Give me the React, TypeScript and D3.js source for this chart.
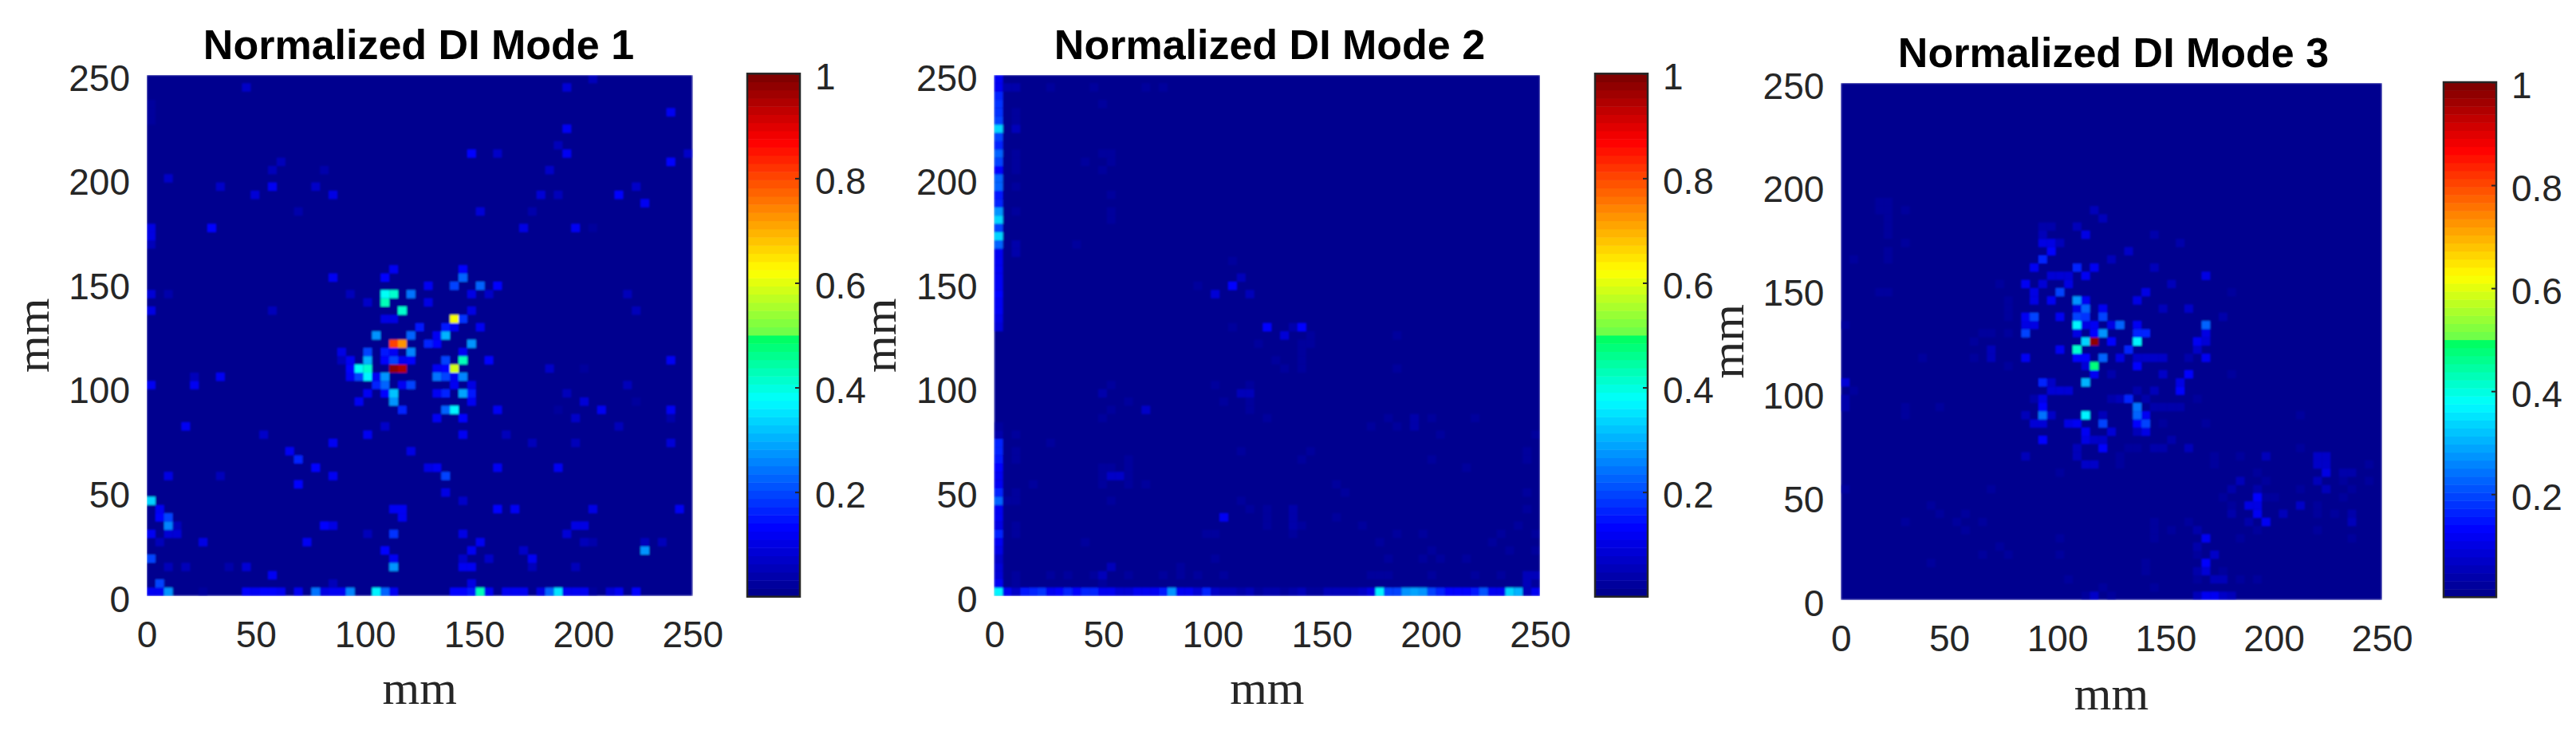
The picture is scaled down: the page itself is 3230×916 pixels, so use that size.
import React, { useEffect, useRef } from 'react';
import * as d3 from 'd3';

type Cell = [number, number, number]; // grid column, grid row from the bottom, DI value

const gridSize = 63;
const axisTicks = [0, 50, 100, 150, 200, 250];
const colorbarTicks = [0.2, 0.4, 0.6, 0.8, 1];
const colormapStops = [0, 0.125, 0.375, 0.4995, 0.5, 0.625, 0.875, 1];
const colormapColors = ['#00008f', '#0000ff', '#00ffff', '#00ff5a', '#66ff4d', '#ffff00', '#ff0000', '#800000'];
const titles = ['Normalized DI Mode 1', 'Normalized DI Mode 2', 'Normalized DI Mode 3'];

const mode1Cells: Cell[] = [
  [0, 0, .12], [1, 0, .12], [2, 0, .28], [6, 0, .03], [11, 0, .13], [12, 0, .12], [13, 0, .14], [14, 0, .14], [15, 0, .12],
  [17, 0, .11], [19, 0, .24], [20, 0, .1], [21, 0, .11], [22, 0, .11], [23, 0, .26], [26, 0, .36], [27, 0, .22], [28, 0, .12],
  [35, 0, .14], [36, 0, .14], [37, 0, .15], [38, 0, .43], [39, 0, .12], [41, 0, .12], [42, 0, .12], [43, 0, .11], [45, 0, .1],
  [46, 0, .23], [47, 0, .35], [48, 0, .11], [49, 0, .11], [50, 0, .11], [51, 0, .03], [53, 0, .09], [54, 0, .11], [56, 0, .13],
  [1, 1, .2], [21, 1, .05], [37, 1, .1], [14, 2, .12],
  [2, 3, .05], [4, 3, .05], [9, 3, .04], [11, 3, .09], [28, 3, .27], [36, 3, .12], [37, 3, .11], [44, 3, .05], [49, 3, .05],
  [0, 4, .2], [28, 4, .11], [36, 4, .065], [39, 4, .065], [44, 4, .11],
  [27, 5, .14], [37, 5, .11], [43, 5, .065], [57, 5, .27],
  [1, 6, .05], [6, 6, .1], [18, 6, .12], [38, 6, .11], [50, 6, .05], [51, 6, .04], [57, 6, .05], [59, 6, .05],
  [0, 7, .12], [2, 7, .09], [3, 7, .09], [25, 7, .05], [28, 7, .18], [36, 7, .1], [48, 7, .09],
  [2, 8, .26], [3, 8, .05], [20, 8, .14], [21, 8, .1], [49, 8, .1], [50, 8, .1],
  [1, 9, .13], [2, 9, .2], [29, 9, .12],
  [1, 10, .12], [28, 10, .11], [29, 10, .12], [40, 10, .14], [42, 10, .11], [51, 10, .1], [61, 10, .11],
  [0, 11, .33], [36, 11, .065], [34, 12, .1], [17, 13, .14],
  [2, 14, .1], [8, 14, .05], [21, 14, .12], [34, 14, .2],
  [19, 15, .13], [32, 15, .1], [33, 15, .11], [40, 15, .12], [47, 15, .12],
  [17, 16, .16], [16, 17, .12], [30, 17, .1],
  [21, 18, .12], [44, 18, .05], [49, 18, .05], [60, 18, .09],
  [13, 19, .065], [25, 19, .12], [36, 19, .11], [41, 19, .05],
  [4, 20, .12], [27, 20, .065], [54, 20, .05],
  [33, 21, .11], [36, 21, .14], [49, 21, .065], [60, 21, .04],
  [29, 22, .17], [34, 22, .23], [35, 22, .36], [40, 22, .12], [47, 22, .03], [52, 22, .12], [60, 22, .11],
  [24, 23, .12], [28, 23, .27], [37, 23, .12], [50, 23, .09], [56, 23, .03],
  [25, 24, .12], [27, 24, .13], [28, 24, .32], [33, 24, .12], [34, 24, .17], [36, 24, .29], [37, 24, .15], [48, 24, .05],
  [0, 25, .11], [5, 25, .11], [26, 25, .16], [27, 25, .22], [29, 25, .12], [30, 25, .2], [35, 25, .12], [37, 25, .1], [55, 25, .05],
  [5, 26, .05], [8, 26, .12], [23, 26, .12], [24, 26, .2], [25, 26, .37], [26, 26, .12], [27, 26, .28], [33, 26, .24], [34, 26, .2], [35, 26, .12], [36, 26, .26],
  [23, 27, .13], [24, 27, .38], [25, 27, .42], [28, 27, .97], [29, 27, .95], [33, 27, .12], [34, 27, .13], [35, 27, .58], [46, 27, .065], [50, 27, .03],
  [22, 28, .05], [23, 28, .12], [25, 28, .3], [27, 28, .14], [28, 28, .2], [29, 28, .12], [30, 28, .13], [34, 28, .19], [36, 28, .43], [39, 28, .13], [60, 28, .11],
  [22, 29, .1], [25, 29, .2], [27, 29, .15], [28, 29, .12], [30, 29, .25], [36, 29, .12],
  [28, 30, .8], [29, 30, .72], [32, 30, .17], [33, 30, .13], [37, 30, .27],
  [26, 31, .28], [30, 31, .22], [33, 31, .12], [34, 31, .3],
  [31, 32, .15], [34, 32, .15], [35, 32, .12], [38, 32, .12],
  [27, 33, .1], [28, 33, .1], [35, 33, .62], [36, 33, .18],
  [0, 34, .1], [14, 34, .05], [29, 34, .42], [37, 34, .1], [56, 34, .05],
  [25, 35, .065], [27, 35, .43], [32, 35, .1],
  [0, 36, .09], [2, 36, .04], [23, 36, .05], [27, 36, .38], [28, 36, .42], [30, 36, .24], [37, 36, .1], [39, 36, .065], [55, 36, .05],
  [32, 37, .11], [35, 37, .2], [38, 37, .22], [40, 37, .14],
  [21, 38, .11], [27, 38, .13], [36, 38, .22], [28, 39, .12], [36, 39, .13],
  [0, 42, .05], [0, 43, .1], [0, 44, .1], [7, 44, .13], [43, 44, .1], [49, 44, .11], [51, 44, .03],
  [17, 46, .04], [38, 46, .09], [44, 46, .04], [57, 47, .12],
  [12, 48, .09], [21, 48, .1], [45, 48, .09], [47, 48, .05], [54, 48, .13],
  [8, 49, .065], [14, 49, .11], [19, 49, .065], [56, 49, .065],
  [2, 50, .065], [14, 51, .05], [20, 51, .04], [46, 51, .065],
  [15, 52, .05], [60, 52, .13],
  [37, 53, .13], [40, 53, .065], [48, 53, .11], [62, 53, .065], [47, 54, .05],
  [48, 56, .11], [0, 57, .03], [60, 58, .12], [0, 58, .03], [0, 59, .03],
  [11, 61, .065], [48, 61, .09], [51, 62, .05],
];

const mode2Cells: Cell[] = [
  [0, 0, .37], [1, 0, .11], [2, 0, .065], [3, 0, .15], [4, 0, .17], [5, 0, .18], [6, 0, .12], [7, 0, .14], [8, 0, .16], [9, 0, .13],
  [10, 0, .17], [11, 0, .17], [12, 0, .12], [13, 0, .12], [14, 0, .09], [15, 0, .09], [16, 0, .11], [17, 0, .11], [18, 0, .12],
  [19, 0, .15], [20, 0, .27], [21, 0, .11], [22, 0, .11], [23, 0, .09], [24, 0, .17], [25, 0, .065], [26, 0, .05], [27, 0, .05],
  [28, 0, .04], [29, 0, .05], [30, 0, .025], [31, 0, .04], [32, 0, .04], [33, 0, .025], [34, 0, .04], [35, 0, .05], [36, 0, .025],
  [37, 0, .03], [38, 0, .05], [39, 0, .05], [40, 0, .05], [41, 0, .05], [42, 0, .065], [43, 0, .1], [44, 0, .37], [45, 0, .2],
  [46, 0, .2], [47, 0, .27], [48, 0, .29], [49, 0, .27], [50, 0, .2], [51, 0, .16], [52, 0, .14], [53, 0, .13], [54, 0, .13],
  [55, 0, .15], [56, 0, .21], [57, 0, .12], [58, 0, .12], [59, 0, .33], [60, 0, .3], [61, 0, .05], [62, 0, .11],
  [0, 1, .11], [2, 1, .03], [12, 1, .03], [61, 1, .05], [62, 1, .03],
  [0, 2, .09], [2, 2, .03], [6, 2, .03], [8, 2, .03], [11, 2, .025], [12, 2, .05], [15, 2, .03], [19, 2, .025], [21, 2, .025], [23, 2, .025],
  [26, 2, .03], [43, 2, .025], [44, 2, .025], [45, 2, .03], [50, 2, .025], [55, 2, .025], [58, 2, .03], [61, 2, .05], [62, 2, .05],
  [0, 3, .09], [13, 3, .05], [21, 3, .025],
  [0, 4, .065], [25, 4, .03], [45, 4, .03], [49, 4, .03], [51, 4, .03], [54, 4, .03],
  [0, 5, .1], [50, 5, .025], [59, 5, .025], [62, 5, .02],
  [0, 6, .11], [10, 6, .03], [44, 6, .025], [57, 6, .025],
  [0, 7, .17], [2, 7, .025], [24, 7, .03], [25, 7, .03], [34, 7, .025], [46, 7, .025], [49, 7, .025], [58, 7, .025], [62, 7, .03],
  [0, 8, .1], [2, 8, .025], [31, 8, .03], [34, 8, .04], [35, 8, .025], [42, 8, .025], [60, 8, .025],
  [0, 9, .12], [26, 9, .11], [31, 9, .03], [34, 9, .04], [39, 9, .025],
  [0, 10, .12], [29, 10, .025], [31, 10, .03], [34, 10, .04], [61, 10, .025],
  [0, 11, .22], [1, 11, .025], [2, 11, .03], [13, 11, .025], [28, 11, .025],
  [0, 12, .16], [2, 12, .03], [40, 12, .025], [61, 12, .025],
  [0, 13, .11], [4, 13, .025], [12, 13, .03], [15, 13, .03], [17, 13, .025], [39, 13, .025],
  [0, 14, .11], [12, 14, .03], [13, 14, .065], [14, 14, .065], [15, 14, .03],
  [0, 15, .13], [12, 15, .03], [13, 15, .025], [15, 15, .03], [54, 15, .025],
  [0, 16, .15], [2, 16, .025], [15, 16, .03], [35, 16, .025], [50, 16, .025], [61, 16, .03],
  [0, 17, .16], [2, 17, .03], [28, 17, .025], [36, 17, .025], [61, 17, .03],
  [0, 18, .16], [6, 18, .025],
  [0, 19, .04], [2, 19, .025], [51, 19, .025], [62, 19, .025],
  [0, 20, .03], [43, 20, .025], [46, 20, .025], [48, 20, .04],
  [12, 21, .025], [31, 21, .025], [45, 21, .025], [48, 21, .04], [50, 21, .025], [55, 21, .025],
  [13, 22, .03], [17, 22, .065], [29, 22, .03],
  [15, 23, .03], [26, 23, .025], [29, 23, .03],
  [12, 24, .04], [28, 24, .05], [29, 24, .05],
  [13, 25, .025], [25, 25, .025], [29, 25, .025],
  [33, 27, .025], [35, 27, .03], [46, 27, .025],
  [32, 28, .025], [35, 28, .03], [35, 29, .03],
  [30, 30, .025], [35, 30, .03], [36, 30, .03],
  [33, 31, .09], [36, 31, .03], [46, 31, .03],
  [0, 32, .09], [27, 32, .025], [31, 32, .13], [34, 32, .04], [35, 32, .14],
  [0, 33, .1], [0, 34, .12], [0, 35, .12], [0, 36, .14], [25, 36, .09], [29, 36, .05],
  [0, 37, .12], [23, 37, .025], [27, 37, .13],
  [0, 38, .12], [28, 38, .05], [0, 39, .11], [0, 40, .11], [27, 40, .03],
  [0, 41, .12], [2, 41, .04], [0, 42, .22], [2, 42, .04], [9, 42, .025],
  [0, 43, .33], [0, 44, .2], [0, 45, .34], [13, 45, .03], [0, 46, .27], [2, 46, .03], [13, 46, .03],
  [0, 47, .17], [0, 48, .15], [13, 48, .03], [0, 49, .22], [2, 49, .03], [0, 50, .23],
  [0, 51, .14], [2, 51, .03], [12, 51, .03], [0, 52, .2], [2, 52, .03], [10, 52, .03], [13, 52, .03],
  [0, 53, .22], [2, 53, .03], [12, 53, .03], [13, 53, .03], [0, 54, .17], [0, 55, .2],
  [0, 56, .33], [2, 56, .05], [0, 57, .2], [2, 57, .03], [0, 58, .18], [2, 58, .03], [0, 59, .18], [12, 59, .03],
  [0, 60, .17], [0, 61, .12], [1, 61, .04], [2, 61, .04], [6, 61, .025], [11, 61, .025], [17, 61, .025], [19, 61, .025], [0, 62, .12],
];

const mode3Cells: Cell[] = [
  [28, 0, .03], [29, 0, .065], [31, 0, .03], [41, 0, .05], [42, 0, .12], [43, 0, .11], [44, 0, .065], [45, 0, .05],
  [30, 1, .03], [36, 1, .025], [26, 2, .03], [41, 2, .03], [43, 2, .05], [44, 2, .05], [46, 2, .03], [48, 2, .025],
  [35, 3, .03], [41, 3, .04], [42, 3, .09], [44, 3, .025],
  [10, 4, .03], [35, 4, .03], [42, 4, .14],
  [16, 5, .03], [19, 5, .03], [25, 5, .03], [41, 5, .03], [43, 5, .065],
  [18, 6, .03], [41, 6, .04], [25, 7, .03], [36, 7, .025], [42, 7, .12], [46, 7, .03], [59, 7, .03],
  [14, 8, .03], [36, 8, .025], [38, 8, .03], [41, 8, .04], [48, 8, .03], [55, 8, .03],
  [7, 9, .03], [13, 9, .03], [16, 9, .03], [36, 9, .025], [40, 9, .03], [47, 9, .04], [49, 9, .12], [59, 9, .05],
  [11, 10, .03], [14, 10, .03], [45, 10, .04], [48, 10, .12], [51, 10, .05], [55, 10, .03], [57, 10, .03], [59, 10, .04],
  [10, 11, .03], [45, 11, .025], [47, 11, .1], [48, 11, .1], [53, 11, .065], [55, 11, .03],
  [44, 12, .025], [48, 12, .13], [49, 12, .03], [50, 12, .03], [58, 12, .03],
  [0, 13, .03], [17, 13, .03], [45, 13, .04], [48, 13, .04], [53, 13, .03], [56, 13, .05], [59, 13, .03],
  [46, 14, .05], [49, 14, .03], [55, 14, .05], [58, 14, .025], [61, 14, .03],
  [25, 15, .03], [48, 15, .03], [56, 15, .1], [58, 15, .04], [59, 15, .04],
  [28, 16, .065], [29, 16, .065], [32, 16, .03], [43, 16, .03], [55, 16, .065], [56, 16, .065], [61, 16, .025],
  [21, 17, .05], [27, 17, .05], [32, 17, .03], [43, 17, .03], [46, 17, .03], [49, 17, .05], [55, 17, .065], [56, 17, .065],
  [27, 18, .05], [30, 18, .14], [33, 18, .03], [34, 18, .03], [36, 18, .04], [37, 18, .04], [40, 18, .05], [53, 18, .03],
  [23, 19, .13], [28, 19, .1], [29, 19, .065], [30, 19, .065], [38, 19, .04],
  [28, 20, .12], [31, 20, .09], [34, 20, .05], [35, 20, .1],
  [22, 21, .09], [23, 21, .09], [26, 21, .1], [27, 21, .12], [30, 21, .2], [34, 21, .13], [35, 21, .2], [37, 21, .03], [42, 21, .03],
  [7, 22, .03], [21, 22, .05], [23, 22, .24], [24, 22, .065], [28, 22, .36], [30, 22, .05], [34, 22, .22], [35, 22, .12], [53, 22, .03],
  [0, 23, .04], [7, 23, .03], [11, 23, .025], [23, 23, .13], [34, 23, .24], [36, 23, .04], [37, 23, .04], [38, 23, .04], [39, 23, .04],
  [0, 24, .04], [22, 24, .04], [23, 24, .1], [31, 24, .04], [32, 24, .05], [33, 24, .16], [35, 24, .04], [41, 24, .03],
  [1, 25, .03], [24, 25, .09], [25, 25, .09], [26, 25, .09], [34, 25, .04], [36, 25, .05], [39, 25, .13],
  [0, 26, .09], [23, 26, .16], [24, 26, .065], [28, 26, .3], [39, 26, .1],
  [29, 27, .12], [31, 27, .04], [37, 27, .065], [40, 27, .13], [45, 27, .03],
  [19, 28, .03], [28, 28, .09], [29, 28, .47], [34, 28, .13],
  [9, 29, .03], [15, 29, .03], [17, 29, .05], [21, 29, .12], [27, 29, .13], [28, 29, .13], [30, 29, .22], [32, 29, .1],
  [34, 29, .065], [35, 29, .065], [36, 29, .065], [37, 29, .065], [40, 29, .04], [42, 29, .12],
  [17, 30, .05], [25, 30, .11], [27, 30, .42], [33, 30, .17], [41, 30, .065],
  [15, 31, .025], [28, 31, .33], [29, 31, .97], [31, 31, .13], [34, 31, .37], [41, 31, .12], [42, 31, .09],
  [16, 32, .03], [17, 32, .03], [19, 32, .025], [21, 32, .19], [27, 32, .1], [29, 32, .13], [30, 32, .27], [34, 32, .17], [35, 32, .17], [42, 32, .1],
  [0, 33, .025], [21, 33, .1], [22, 33, .1], [27, 33, .37], [28, 33, .1], [29, 33, .12], [31, 33, .1], [32, 33, .22], [34, 33, .12], [42, 33, .22],
  [19, 34, .03], [21, 34, .12], [22, 34, .19], [25, 34, .12], [27, 34, .2], [28, 34, .18], [30, 34, .19], [44, 34, .04],
  [19, 35, .03], [27, 35, .1], [28, 35, .23], [30, 35, .12], [37, 35, .05], [40, 35, .065],
  [19, 36, .03], [22, 36, .1], [24, 36, .12], [27, 36, .28], [28, 36, .12], [34, 36, .1],
  [4, 37, .03], [5, 37, .03], [22, 37, .1], [25, 37, .2], [35, 37, .1], [45, 37, .03],
  [18, 38, .03], [21, 38, .11], [23, 38, .09], [26, 38, .1], [38, 38, .05],
  [24, 39, .09], [25, 39, .09], [26, 39, .09], [28, 39, .12], [42, 39, .1],
  [22, 40, .11], [27, 40, .17], [29, 40, .11], [36, 40, .05],
  [1, 41, .025], [5, 41, .03], [23, 41, .17], [31, 41, .05],
  [5, 42, .03], [24, 42, .14], [33, 42, .065],
  [7, 43, .03], [23, 43, .1], [24, 43, .1], [25, 43, .05], [39, 43, .04],
  [5, 44, .03], [23, 44, .05], [28, 44, .1], [36, 44, .04],
  [5, 45, .03], [23, 45, .04], [24, 45, .04], [27, 45, .05],
  [5, 46, .03], [30, 46, .05],
  [4, 47, .03], [5, 47, .03], [7, 47, .03], [29, 47, .05], [4, 48, .03], [5, 48, .03],
];

const panelData = [mode1Cells, mode2Cells, mode3Cells];

// Layout, in page pixels
const panels = [
  { left: 184, right: 868.3, top: 94, bottom: 746.7, barLeft: 937, barTop: 92.3, barBottom: 747.7, titleX: 525, titleY: 74, yLabelX: 61, xLabelY: 882 },
  { left: 1246.7, right: 1931, top: 94, bottom: 746.7, barLeft: 2000, barTop: 92.3, barBottom: 747.7, titleX: 1592, titleY: 74, yLabelX: 1123, xLabelY: 882 },
  { left: 2308.3, right: 2986.7, top: 104, bottom: 751.7, barLeft: 3064, barTop: 103, barBottom: 748.3, titleX: 2650, titleY: 84, yLabelX: 2186, xLabelY: 889 },
];
const barWidth = 66;
const sansFont = '"Liberation Sans", Arial, sans-serif';
const serifFont = '"Liberation Serif", "Times New Roman", serif';
const textColor = '#262626';

export default function App() {
  const svgRef = useRef<SVGSVGElement>(null);

  useEffect(() => {
    if (!svgRef.current) return;

    const svg = d3.select(svgRef.current);
    svg.selectAll('*').remove();

    // The reference is a resampled bitmap, cells have slightly soft edges
    const soft = svg.append('defs').append('filter')
      .attr('id', 'soft')
      .attr('x', 0)
      .attr('y', 0)
      .attr('width', 1)
      .attr('height', 1);
    soft.append('feGaussianBlur')
      .attr('stdDeviation', 0.9)
      .attr('edgeMode', 'duplicate');

    const ramp = d3.scaleLinear<string>()
      .domain(colormapStops)
      .range(colormapColors)
      .interpolate(d3.interpolateRgb);

    // MATLAB style colormap: 64 flat levels
    const levels = d3.range(64);
    const levelOf = (v: number) => Math.min(63, Math.floor(v * 64));
    const color = (v: number) => ramp(levelOf(v) / 63);

    panels.forEach((p, i) => {
      const g = svg.append('g');

      const x = d3.scaleLinear().domain([0, 250]).range([p.left, p.right]);
      const y = d3.scaleLinear().domain([0, 250]).range([p.bottom, p.top]);
      const col = d3.scaleBand<number>().domain(d3.range(gridSize)).range([p.left, p.right]);
      const row = d3.scaleBand<number>().domain(d3.range(gridSize)).range([p.bottom, p.top]);

      // Background level, then the cells that stand out
      const heat = g.append('g').attr('filter', 'url(#soft)');

      heat.append('rect')
        .attr('x', p.left)
        .attr('y', p.top)
        .attr('width', p.right - p.left)
        .attr('height', p.bottom - p.top)
        .attr('fill', color(0));

      heat.selectAll('rect.cell')
        .data(panelData[i])
        .enter()
        .append('rect')
        .attr('class', 'cell')
        .attr('x', d => col(d[0]) || 0)
        .attr('y', d => row(d[1]) || 0)
        .attr('width', col.bandwidth())
        .attr('height', row.bandwidth())
        .attr('fill', d => color(d[2]));

      // Axes have no lines or tick marks in the original
      const xAxis = d3.axisBottom(x).tickValues(axisTicks).tickSize(0).tickPadding(32);
      const yAxis = d3.axisLeft(y).tickValues(axisTicks).tickSize(0).tickPadding(21);

      g.append('g')
        .attr('transform', `translate(0,${p.bottom})`)
        .call(xAxis)
        .attr('color', textColor)
        .attr('font-size', 46)
        .attr('font-family', sansFont)
        .select('.domain').remove();

      const yG = g.append('g')
        .attr('transform', `translate(${p.left},0)`)
        .call(yAxis)
        .attr('color', textColor)
        .attr('font-size', 46)
        .attr('font-family', sansFont);
      yG.select('.domain').remove();
      yG.selectAll('text').attr('dy', '0.42em');

      g.append('text')
        .attr('x', p.titleX)
        .attr('y', p.titleY)
        .attr('text-anchor', 'middle')
        .attr('font-family', sansFont)
        .attr('font-weight', 'bold')
        .attr('font-size', 52)
        .attr('fill', '#000')
        .text(titles[i]);

      g.append('text')
        .attr('x', (p.left + p.right) / 2)
        .attr('y', p.xLabelY)
        .attr('text-anchor', 'middle')
        .attr('font-family', serifFont)
        .attr('font-size', 60)
        .attr('fill', textColor)
        .text('mm');

      g.append('text')
        .attr('transform', `translate(${p.yLabelX},${(p.top + p.bottom) / 2}) rotate(-90)`)
        .attr('text-anchor', 'middle')
        .attr('font-family', serifFont)
        .attr('font-size', 60)
        .attr('fill', textColor)
        .text('mm');

      // Colorbar
      const barBand = d3.scaleBand<number>().domain(levels).range([p.barBottom, p.barTop]);
      const barScale = d3.scaleLinear().domain([0, 1]).range([p.barBottom, p.barTop]);

      g.append('g')
        .selectAll('rect')
        .data(levels)
        .enter()
        .append('rect')
        .attr('x', p.barLeft)
        .attr('y', d => barBand(d) || 0)
        .attr('width', barWidth)
        .attr('height', barBand.bandwidth() + 0.5)
        .attr('fill', d => ramp(d / 63));

      g.append('rect')
        .attr('x', p.barLeft)
        .attr('y', p.barTop)
        .attr('width', barWidth)
        .attr('height', p.barBottom - p.barTop)
        .attr('fill', 'none')
        .attr('stroke', textColor)
        .attr('stroke-width', 2.5);

      const barAxis = d3.axisRight(barScale)
        .tickValues(colorbarTicks)
        .tickFormat(d => String(d))
        .tickSize(-6)
        .tickPadding(19);

      const barG = g.append('g')
        .attr('transform', `translate(${p.barLeft + barWidth},0)`)
        .call(barAxis)
        .attr('color', textColor)
        .attr('font-size', 46)
        .attr('font-family', sansFont);
      barG.select('.domain').remove();
      barG.selectAll('text').attr('dy', '0.42em');
      barG.selectAll('line').attr('stroke-width', 2);
    });
  }, []);

  return (
    <svg
      ref={svgRef}
      width={3230}
      height={916}
      style={{ position: 'absolute', left: 0, top: 0, background: '#fff' }}
    />
  );
}
